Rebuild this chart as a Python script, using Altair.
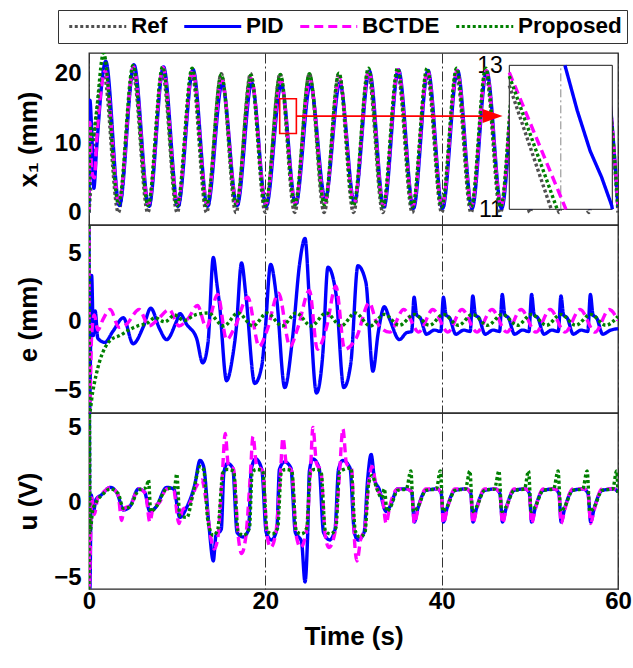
import altair as alt
import pandas as pd

FONT = "Liberation Sans"
SERIES = ["Ref", "PID", "BCTDE", "Proposed"]
COLORS = ["#505050", "#0000ff", "#ff00ff", "#008000"]
DASHES = [[3, 2.5], [1, 0], [9, 5], [3, 2.5]]
X_TICKS = [0, 20, 40, 60]

# ---------------- top panel: x1 (mm) ----------------
ref_x1_t = [0, 1.67, 3.33, 5.0, 6.67, 8.33, 10.0, 11.67, 13.33, 15.0, 16.67, 18.33, 20.0,
            21.67, 23.33, 25.0, 26.67, 28.33, 30.0, 31.67, 33.33, 35.0, 36.67, 38.33, 40.0,
            41.67, 43.33, 45.0, 46.67, 48.33, 50.0, 51.67, 53.33, 55.0, 56.67, 58.33, 60.0]
ref_x1_v = [0, 20, 0, 20, 0, 20, 0, 20, 0, 20, 0, 20, 0, 20, 0, 20, 0, 20, 0, 20, 0, 20, 0,
            20, 0, 20, 0, 20, 0, 20, 0, 20, 0, 20, 0, 20, 0]

pid_x1_t = [0, 0.1, 0.3, 0.55, 0.85, 1.9, 3.45, 5.1, 6.8, 8.45, 10.1, 11.8, 13.45, 15.1, 16.8,
            18.45, 20.1, 21.8, 23.45, 25.1, 26.8, 28.45, 30.1, 31.8, 33.45, 35.1, 36.8, 38.45,
            40.1, 41.8, 43.45, 45.1, 46.8, 48.45, 50.1, 51.8, 53.45, 55.1, 56.8, 58.45, 60.0]
pid_x1_v = [0, 16.2, 12.0, 3.5, 9.0, 21.8, 1.0, 21.3, 0.9, 21.0, 0.9, 20.6, 0.9, 18.6, 1.0,
            18.7, 0.9, 18.5, 1.2, 18.5, 2.0, 18.7, 1.5, 20.4, 0.8, 20.6, 0.6, 20.5, 0.6, 20.5,
            0.6, 20.4, 0.6, 20.4, 0.6, 20.4, 0.6, 20.4, 0.6, 20.4, 0.8]

bctde_x1_t = [0, 0.1, 0.3, 0.6, 0.9, 1.85, 3.4, 5.05, 6.75, 8.4, 10.05, 11.75, 13.4, 15.05,
              16.75, 18.4, 20.05, 21.75, 23.4, 25.05, 26.75, 28.4, 30.05, 31.75, 33.4, 35.05,
              36.75, 38.4, 40.05, 41.75, 43.4, 45.05, 46.75, 48.4, 50.05, 51.75, 53.4, 55.05,
              56.75, 58.4, 60.0]
bctde_x1_v = [0, 13.0, 6.0, 5.0, 11.0, 20.4, 1.4, 21.0, 1.2, 20.9, 1.2, 20.5, 1.2, 19.2, 1.3,
              19.3, 1.2, 19.0, 1.3, 19.2, 1.4, 19.4, 1.3, 20.5, 1.0, 20.6, 0.9, 20.5, 0.9, 20.5,
              0.9, 20.5, 0.9, 20.5, 0.9, 20.5, 0.9, 20.5, 0.9, 20.5, 1.0]

prop_x1_t = [0, 0.1, 0.4, 0.8, 1.65, 3.35, 5.0, 6.7, 8.35, 10.0, 11.7, 13.35, 15.0, 16.7,
             18.35, 20.0, 21.7, 23.35, 25.0, 26.7, 28.35, 30.0, 31.7, 33.35, 35.0, 36.7, 38.35,
             40.0, 41.7, 43.35, 45.0, 46.7, 48.35, 50.0, 51.7, 53.35, 55.0, 56.7, 58.35, 60.0]
prop_x1_v = [0, 12.5, 10.5, 14.0, 23.0, 1.2, 21.2, 1.0, 21.0, 1.0, 20.8, 1.0, 19.9, 1.1, 19.8,
             1.0, 19.9, 1.1, 20.0, 1.1, 20.1, 1.0, 20.8, 0.9, 20.8, 0.8, 20.8, 0.8, 20.8, 0.8,
             20.8, 0.8, 20.8, 0.8, 20.8, 0.8, 20.8, 0.8, 20.8, 0.9]

# zoom box, arrow and inset (data coordinates)
zoom_box_t = [21.63, 23.52]
zoom_box_v = [11.4, 16.4]
arrow_t = [23.52, 45.78]
arrow_v = 13.9
inset_t = [22.45, 22.65]
inset_v = [11, 13]
inset_grid_t = 22.55
inset_ref = [(22.45, 12.72), (22.5315, 11.0)]
inset_prop = [(22.45, 12.85), (22.543, 11.0)]
inset_bctde = [(22.45, 12.9), (22.56, 11.0)]
inset_pid = [(22.558, 13.0), (22.582, 12.37), (22.607, 11.81), (22.629, 11.45),
             (22.649, 11.05), (22.65, 11.0)]

# ---------------- middle panel: e (mm) ----------------
pid_e = [(0, 7.0), (0.06, -6.6), (0.3, 3.4), (0.5, -1.0), (0.7, 0.8), (1.0, -1.2), (1.8, -1.5),
         (2.7, -0.7), (3.9, 0.3), (5.0, -1.6), (6.2, -0.3), (7.0, 1.0), (8.0, -0.5), (8.8, -1.3),
         (9.9, 0.0), (10.3, 0.6), (11.1, -0.2), (12.2, -1.2), (12.9, -3.0), (13.5, -1.5),
         (14.1, 4.7), (14.5, 2.8), (14.8, 1.3), (15.6, -4.3), (16.3, -2.5), (16.7, -0.5),
         (17.3, 4.3), (17.8, 1.9), (18.8, -4.5), (19.6, -3.2), (20.0, -0.5), (20.6, 4.2),
         (21.3, 1.6), (22.2, -4.8), (23.1, -1.1), (23.9, 4.3), (24.5, 6.1), (25.0, 1.6),
         (25.8, -5.2), (26.5, -2.5), (27.1, 4.0), (28.0, 2.1), (28.9, -4.8), (29.7, -3.0),
         (30.5, 4.1), (31.4, 2.9), (32.2, -3.6), (32.8, -0.8), (33.5, 1.1), (34.1, 0.2),
         (35.2, -1.3), (36.0, -0.8), (36.6, -0.7),
         (36.87, 1.8), (37.17, 0.5), (37.57, 0.3), (38.27, -0.9), (39.17, -0.6), (39.9, -0.7),
         (40.2, 1.8), (40.5, 0.5), (40.9, 0.3), (41.6, -0.9), (42.5, -0.6), (43.23, -0.7),
         (43.53, 1.9), (43.83, 0.5), (44.23, 0.3), (44.93, -0.9), (45.83, -0.6), (46.57, -0.7),
         (46.87, 2.0), (47.17, 0.5), (47.57, 0.3), (48.27, -0.9), (49.17, -0.6), (49.9, -0.7),
         (50.2, 2.0), (50.5, 0.5), (50.9, 0.3), (51.6, -0.9), (52.5, -0.6), (53.23, -0.7),
         (53.53, 1.9), (53.83, 0.5), (54.23, 0.3), (54.93, -0.9), (55.83, -0.6), (56.57, -0.7),
         (56.87, 2.0), (57.17, 0.5), (57.57, 0.3), (58.27, -0.9), (59.17, -0.6), (60.0, -0.5)]

bctde_e = [(0, 7.0), (0.06, -6.6), (0.3, -1.0), (0.6, 0.5), (1.0, -0.6), (1.6, 0.2), (2.4, 0.9),
           (3.4, -0.4), (4.2, -0.2), (5.7, 0.9), (6.8, -0.3), (7.7, 0.1), (9.1, 0.9), (10.2, -0.3),
           (11.3, 0.3), (12.3, 1.2), (13.3, -0.4), (14.6, 2.0), (15.6, -1.3), (16.6, -0.3),
           (18.0, 1.8), (19.3, -1.8), (20.2, -0.6), (21.5, 2.1), (22.8, -1.8), (23.7, -0.4),
           (25.0, 2.3), (25.9, -2.0), (26.9, -0.5), (28.0, 2.6), (29.0, -2.0), (30.3, -1.2),
           (31.8, 1.4), (32.6, 0.0), (34.1, -0.75), (35.7, 0.9), (37.4, -0.75), (39.0, 0.9),
           (40.7, -0.75), (42.3, 0.9), (44.0, -0.75), (45.7, 0.9), (47.4, -0.75), (49.0, 0.9),
           (50.7, -0.75), (52.3, 0.9), (54.0, -0.75), (55.7, 0.9), (57.4, -0.75), (59.0, 0.9),
           (60.0, 0.1)]

prop_e = [(0, 7.0), (0.06, -6.6), (0.4, -5.2), (0.8, -3.9), (1.2, -2.9), (1.8, -1.9), (2.5, -1.3),
          (3.5, -1.0), (4.5, -0.6), (5.5, -0.3), (6.6, -0.1), (7.5, 0.3), (8.6, 0.0), (9.7, 0.5),
          (10.8, 0.1), (12.0, 0.5), (13.5, 0.65), (15.3, -0.3), (16.9, 0.65), (18.6, -0.3),
          (20.2, 0.65), (21.9, -0.3), (23.5, 0.65), (25.2, -0.3), (26.9, 0.65), (28.6, -0.3),
          (30.2, 0.65), (31.9, -0.3), (33.5, 0.55), (35.2, -0.25), (36.9, 0.55), (38.6, -0.25),
          (40.2, 0.55), (41.9, -0.25), (43.5, 0.55), (45.2, -0.25), (46.9, 0.55), (48.6, -0.25),
          (50.2, 0.55), (51.9, -0.25), (53.5, 0.55), (55.2, -0.25), (56.9, 0.55), (58.6, -0.25),
          (60.0, 0.4)]

# ---------------- bottom panel: u (V) ----------------
pid_u = [(0, -5.8), (0.04, 5.9), (0.1, -5.8), (0.25, 0.5), (0.5, -0.6), (0.8, 0.2), (1.4, 0.5),
         (2.4, 1.0), (3.2, 0.6), (3.9, -0.5), (4.6, -0.3), (5.6, 0.9), (6.3, 0.7), (6.9, -0.6),
         (7.6, -0.3), (8.8, 1.0), (9.6, 0.9), (10.3, -1.0), (11.1, -0.3), (12.0, 1.2), (12.6, 2.8),
         (13.0, 2.4), (13.6, -1.5), (14.1, -3.9), (14.4, -2.2), (15.0, -1.8), (15.3, 2.0),
         (15.7, 2.6), (16.3, 2.3), (16.8, -2.0), (17.5, -2.3), (18.1, -1.8), (18.4, 2.2),
         (18.9, 2.9), (19.6, 2.2), (20.1, -2.0), (20.7, -2.5), (21.3, -1.8), (21.6, 2.2),
         (22.2, 2.7), (22.9, 2.3), (23.4, -2.0), (24.1, -2.6), (24.5, -5.3), (24.8, -2.2),
         (25.0, 2.1), (25.4, 2.9), (26.1, 2.3), (26.6, -2.0), (27.3, -2.5), (27.9, -1.8),
         (28.3, 2.2), (28.8, 2.8), (29.6, 2.3), (30.1, -2.0), (30.5, -2.5), (31.2, -2.0),
         (31.6, 1.5), (32.0, 3.2), (32.4, 1.5), (32.9, 0.9), (33.7, -0.6), (34.2, -0.2),
         (35.0, 0.9), (36.0, 0.9), (36.6, 0.7), (36.9, -1.3), (37.3, -0.4), (38.2, 0.8),
         (39.5, 0.9), (39.95, 0.6), (40.2, -1.3), (40.6, -0.4), (41.5, 0.8), (42.8, 0.9),
         (43.3, 0.6), (43.55, -1.3), (43.95, -0.4), (44.85, 0.8), (46.1, 0.9), (46.6, 0.6),
         (46.9, -1.3), (47.3, -0.4), (48.2, 0.8), (49.5, 0.9), (49.95, 0.6), (50.2, -1.3),
         (50.6, -0.4), (51.5, 0.8), (52.8, 0.9), (53.3, 0.6), (53.55, -1.3), (53.95, -0.4),
         (54.85, 0.8), (56.1, 0.9), (56.6, 0.6), (56.9, -1.3), (57.3, -0.4), (58.2, 0.8),
         (59.5, 0.9), (60.0, 0.7)]

bctde_u = [(0, 5.9), (0.05, -5.8), (0.12, -4.0), (0.3, 0.3), (0.6, -0.8), (1.0, 0.3), (1.5, 0.6),
           (2.4, 1.0), (3.3, 0.5), (3.7, -1.2), (4.0, -0.4), (4.7, -0.2), (5.6, 0.9), (6.4, 0.6),
           (6.9, -1.3), (7.3, -0.3), (8.0, 0.0), (8.8, 0.9), (9.6, 0.8), (10.2, -1.4), (10.6, -0.5),
           (11.3, -0.2), (12.2, 1.1), (12.8, 1.5), (13.3, 0.0), (13.8, -2.3), (14.2, -3.1),
           (14.6, -2.4), (15.1, 1.6), (15.45, 4.6), (15.8, 2.5), (16.4, 2.2), (16.9, -2.1),
           (17.3, -3.4), (17.8, -2.2), (18.3, 1.8), (18.6, 4.4), (19.0, 2.5), (19.7, 2.1),
           (20.2, -2.2), (20.6, -3.0), (21.2, -2.0), (21.7, 1.8), (22.0, 4.3), (22.4, 2.5),
           (23.0, 2.1), (23.5, -2.2), (24.0, -3.0), (24.6, -2.1), (25.1, 1.8), (25.4, 5.0),
           (25.8, 2.6), (26.3, 2.1), (26.8, -2.2), (27.2, -3.0), (27.9, -2.0), (28.4, 1.8),
           (28.8, 4.9), (29.2, 2.6), (29.8, 2.2), (30.1, -2.4), (30.4, -3.9), (30.8, -2.5),
           (31.3, -1.6), (31.7, 1.2), (32.1, 2.4), (32.6, 1.0), (33.3, 0.2), (33.7, -1.4),
           (34.1, -0.3), (35.0, 0.9), (36.0, 0.9), (36.6, 0.7), (36.9, -1.4), (37.3, -0.5),
           (38.2, 0.9), (39.5, 0.9), (39.95, 0.6), (40.2, -1.4), (40.6, -0.5), (41.5, 0.9),
           (42.8, 0.9), (43.3, 0.6), (43.55, -1.4), (43.95, -0.5), (44.85, 0.9), (46.1, 0.9),
           (46.6, 0.6), (46.9, -1.4), (47.3, -0.5), (48.2, 0.9), (49.5, 0.9), (49.95, 0.6),
           (50.2, -1.4), (50.6, -0.5), (51.5, 0.9), (52.8, 0.9), (53.3, 0.6), (53.55, -1.4),
           (53.95, -0.5), (54.85, 0.9), (56.1, 0.9), (56.6, 0.6), (56.9, -1.4), (57.3, -0.5),
           (58.2, 0.9), (59.5, 0.9), (60.0, 0.8)]

prop_u = [(0, -5.8), (0.05, 5.9), (0.12, -2.0), (0.4, -0.6), (0.8, 0.0), (1.5, 0.5), (2.4, 0.9),
          (3.3, 0.6), (3.9, -0.4), (4.6, -0.3), (5.6, 0.8), (6.5, 1.0), (6.75, 1.5), (7.0, -0.6),
          (7.6, -0.3), (8.8, 0.9), (9.7, 1.0), (9.95, 1.9), (10.3, -0.9), (11.1, -1.0), (11.8, 0.6),
          (12.6, 2.4), (13.0, 2.2), (13.5, -1.3), (14.1, -2.2), (14.6, -1.8), (15.2, 2.0),
          (15.7, 2.2), (16.4, 2.1), (16.9, -1.9), (17.5, -2.2), (18.2, -1.7), (18.5, 2.0),
          (19.0, 2.2), (19.7, 2.1), (20.2, -1.9), (20.8, -2.1), (21.4, -1.7), (21.8, 2.0),
          (22.3, 2.2), (23.0, 2.1), (23.5, -1.9), (24.1, -2.1), (24.7, -1.7), (25.1, 2.0),
          (25.6, 2.2), (26.3, 2.1), (26.8, -1.9), (27.4, -2.1), (28.0, -1.7), (28.4, 2.0),
          (28.9, 2.2), (29.7, 2.3), (30.2, -1.9), (30.7, -2.3), (31.3, -2.0), (31.7, 1.2),
          (32.1, 1.8), (32.6, 1.0), (33.2, 0.3), (33.5, 0.9), (33.8, -0.6), (34.2, -0.3),
          (35.0, 0.8), (36.0, 0.9), (36.5, 2.1), (36.8, -0.6), (37.3, -0.3), (38.2, 0.8),
          (39.4, 0.9), (39.85, 2.1), (40.15, -0.6), (40.6, -0.3), (41.5, 0.8), (42.7, 0.9),
          (43.2, 2.1), (43.5, -0.6), (43.95, -0.3), (44.85, 0.8), (46.0, 0.9), (46.5, 2.1),
          (46.8, -0.6), (47.3, -0.3), (48.2, 0.8), (49.4, 0.9), (49.85, 2.1), (50.15, -0.6),
          (50.6, -0.3), (51.5, 0.8), (52.7, 0.9), (53.2, 2.1), (53.5, -0.6), (53.95, -0.3),
          (54.85, 0.8), (56.0, 0.9), (56.5, 2.1), (56.8, -0.6), (57.3, -0.3), (58.2, 0.8),
          (59.4, 0.9), (59.85, 2.1), (60.0, 0.5)]


def long_frame(parts):
    rows = []
    for name, pairs in parts:
        for t, v in pairs:
            rows.append({"t": t, "v": v, "series": name})
    return pd.DataFrame(rows)


x1_df = long_frame([("Ref", zip(ref_x1_t, ref_x1_v)), ("PID", zip(pid_x1_t, pid_x1_v)),
                    ("BCTDE", zip(bctde_x1_t, bctde_x1_v)), ("Proposed", zip(prop_x1_t, prop_x1_v))])
e_df = long_frame([("PID", pid_e), ("BCTDE", bctde_e), ("Proposed", prop_e)])
u_df = long_frame([("PID", pid_u), ("BCTDE", bctde_u), ("Proposed", prop_u)])
inset_df = long_frame([("Ref", inset_ref), ("PID", inset_pid), ("BCTDE", inset_bctde),
                       ("Proposed", inset_prop)])

W = 529
H_TOP, H_MID, H_BOT = 172, 188, 176
LW = 3.4

CS = alt.Scale(domain=SERIES, range=COLORS)
DS = alt.Scale(domain=SERIES, range=DASHES)
XS = alt.Scale(domain=[0, 60], nice=False, zero=False)

LEG = alt.Legend(orient="none", legendX=-31, legendY=-43, direction="horizontal", title=None,
                 symbolType="M-5.7,0H5.7", symbolSize=100, symbolStrokeWidth=3,
                 symbolOffset=23.5, labelOffset=22, columnPadding=10, padding=5,
                 labelFont=FONT, labelFontSize=22.5, labelFontWeight="bold", labelColor="black",
                 strokeColor="#333333", fillColor="white", labelLimit=300)


def x_axis(show):
    kw = dict(values=X_TICKS, grid=True, gridDash=[10, 3, 2, 3], gridColor="#333333",
              gridWidth=1, domain=False, labels=show, ticks=False, format="d", labelPadding=0,
              labelFlush=False)
    if show:
        kw.update(title="Time (s)", titlePadding=10)
    else:
        kw.update(title=None)
    return alt.Axis(**kw)


def y_axis(vals, title, h):
    return alt.Axis(values=vals, title=title, grid=False, ticks=False, domain=False,
                    labelPadding=8, titleX=-61, titleY=h / 2, titleAlign="center",
                    titleBaseline="middle")


def line_layer(df, ydom, yvals, ytitle, h, show_x):
    return alt.Chart(df).mark_line(strokeWidth=LW, interpolate="monotone", clip=True).encode(
        x=alt.X("t:Q", scale=XS, axis=x_axis(show_x)),
        y=alt.Y("v:Q", scale=alt.Scale(domain=ydom, nice=False, zero=False),
                axis=y_axis(yvals, ytitle, h)),
        color=alt.Color("series:N", scale=CS, legend=LEG),
        strokeDash=alt.StrokeDash("series:N", scale=DS, legend=LEG),
    )


# ---- top panel ----
TOP_YDOM = [-1.8, 23]
top_lines = line_layer(x1_df, TOP_YDOM, [0, 10, 20], "x\u2081 (mm)", H_TOP, False)
TYS = alt.Scale(domain=TOP_YDOM, nice=False, zero=False)

box_df = pd.DataFrame({"t": [zoom_box_t[0]], "t2": [zoom_box_t[1]],
                       "v": [zoom_box_v[0]], "v2": [zoom_box_v[1]]})
red_box = alt.Chart(box_df).mark_rect(filled=False, stroke="#ff0000", strokeWidth=1.6).encode(
    x=alt.X("t:Q", scale=XS), x2="t2:Q", y=alt.Y("v:Q", scale=TYS), y2="v2:Q")

arrow_df = pd.DataFrame({"t": [arrow_t[0]], "t2": [arrow_t[1]], "v": [arrow_v]})
arrow_line = alt.Chart(arrow_df).mark_rule(color="#ff0000", strokeWidth=1.8).encode(
    x=alt.X("t:Q", scale=XS), x2="t2:Q", y=alt.Y("v:Q", scale=TYS))
head_df = pd.DataFrame({"t": [arrow_t[1]], "v": [arrow_v]})
arrow_head = alt.Chart(head_df).mark_point(shape="M-1,-0.7L1,0L-1,0.7Z", size=400, filled=True,
                                           color="#ff0000", opacity=1).encode(
    x=alt.X("t:Q", scale=XS), y=alt.Y("v:Q", scale=TYS))

main_top = alt.layer(top_lines, red_box, arrow_line, arrow_head)

ISX = alt.Scale(domain=inset_t, range=[420.3, 523.3], nice=False, zero=False)
ISY = alt.Scale(domain=inset_v, range=[156.3, 12.3], nice=False, zero=False)
INSET_YAXIS = alt.Axis(orient="left", offset=-420.3, values=[11, 13], grid=False, ticks=False,
                       domain=False, labelFontWeight="normal", labelFontSize=23, labelPadding=7,
                       title=None)
ibox_df = pd.DataFrame({"t": [inset_t[0]], "t2": [inset_t[1]], "v": [inset_v[0]], "v2": [inset_v[1]]})
inset_box = alt.Chart(ibox_df).mark_rect(fill="white", stroke="#1a1a1a", strokeWidth=1).encode(
    x=alt.X("t:Q", scale=ISX, axis=None), x2="t2:Q",
    y=alt.Y("v:Q", scale=ISY, axis=INSET_YAXIS), y2="v2:Q")
igrid_df = pd.DataFrame({"t": [inset_grid_t], "v": [inset_v[0]], "v2": [inset_v[1]]})
inset_grid = alt.Chart(igrid_df).mark_rule(color="#888888", strokeDash=[8, 3, 2, 3],
                                           strokeWidth=1).encode(
    x=alt.X("t:Q", scale=ISX, axis=None), y=alt.Y("v:Q", scale=ISY, axis=INSET_YAXIS), y2="v2:Q")
inset_lines = alt.Chart(inset_df).mark_line(strokeWidth=LW).encode(
    x=alt.X("t:Q", scale=ISX, axis=None),
    y=alt.Y("v:Q", scale=ISY, axis=INSET_YAXIS),
    color=alt.Color("series:N", scale=CS, legend=LEG),
    strokeDash=alt.StrokeDash("series:N", scale=DS, legend=LEG),
)
inset = alt.layer(inset_box, inset_grid, inset_lines)

top = alt.layer(main_top, inset).resolve_scale(x="independent", y="independent").properties(
    width=W, height=H_TOP)

mid = line_layer(e_df, [-6.66, 7.08], [-5, 0, 5], "e (mm)", H_MID, False).properties(
    width=W, height=H_MID)
bot = line_layer(u_df, [-5.77, 5.96], [-5, 0, 5], "u (V)", H_BOT, True).properties(
    width=W, height=H_BOT)

chart = alt.vconcat(top, mid, bot, spacing=0, bounds="flush").resolve_scale(
    color="shared", strokeDash="shared").properties(
    padding={"left": 14, "top": 9, "right": 0, "bottom": 10}, background="white"
).configure_view(stroke="#262626", strokeWidth=1.3).configure_axis(
    labelFont=FONT, labelFontSize=24, labelFontWeight="bold", labelColor="black",
    titleFont=FONT, titleFontSize=26, titleFontWeight="bold", titleColor="black")

chart.save("out.html", embed_options={"renderer": "svg", "actions": False})
